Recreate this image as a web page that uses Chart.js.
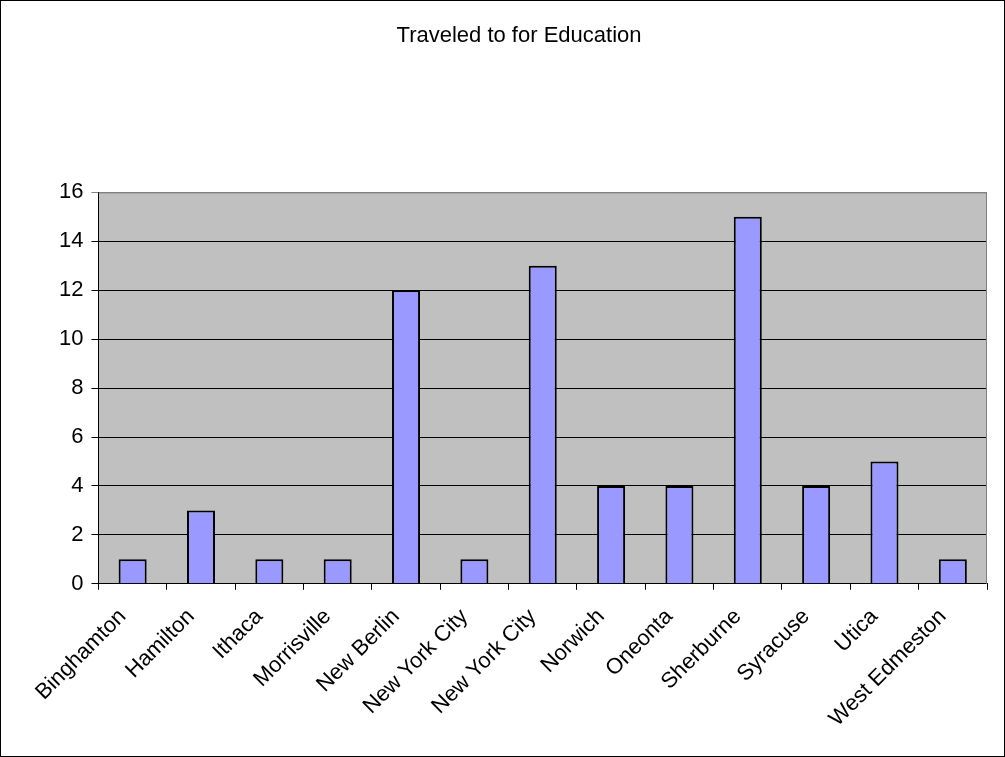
<!DOCTYPE html>
<html>
<head>
<meta charset="utf-8">
<script src="https://cdn.jsdelivr.net/npm/chart.js@4.4.1/dist/chart.umd.min.js"></script>
<style>
  html, body { margin: 0; padding: 0; background: #fff; }
  #wrap { width: 1005px; height: 757px; box-sizing: border-box; border: 1px solid #000; position: relative; }
  canvas { display: block; }
</style>
</head>
<body>
<div id="wrap"><canvas id="chart" width="1003" height="755"></canvas></div>
<script>
// --- data ---
const places = ['Binghamton', 'Hamilton', 'Ithaca', 'Morrisville', 'New Berlin', 'New York City',
  'New York City', 'Norwich', 'Oneonta', 'Sherburne', 'Syracuse', 'Utica', 'West Edmeston'];
const counts = [1, 3, 1, 1, 12, 1, 13, 4, 4, 15, 4, 5, 1];
const yTicks = [0, 2, 4, 6, 8, 10, 12, 14, 16];

const FONT = "'Liberation Sans', Arial, sans-serif";

// gray plot background + gray top/right edge, like the old Excel look
const plotArea = {
  id: 'plotArea',
  beforeDraw(chart) {
    const { ctx, chartArea: a } = chart;
    ctx.save();
    ctx.fillStyle = '#C0C0C0';
    ctx.fillRect(a.left, a.top, a.right - a.left, a.bottom - a.top);
    ctx.restore();
  },
  afterDatasetsDraw(chart) {
    const { ctx, chartArea: a } = chart;
    ctx.save();
    ctx.strokeStyle = '#808080';
    ctx.lineWidth = 1;
    ctx.beginPath();
    ctx.moveTo(a.left, a.top + 0.5);
    ctx.lineTo(a.right - 0.5, a.top + 0.5);
    ctx.lineTo(a.right - 0.5, a.bottom);
    ctx.stroke();
    ctx.restore();
  }
};

new Chart(document.getElementById('chart'), {
  type: 'bar',
  data: {
    labels: places,
    datasets: [{
      data: counts,
      backgroundColor: '#9999FF',
      borderColor: '#000000',
      borderWidth: 2,
      categoryPercentage: 1,
      barPercentage: 0.41,
    }],
  },
  options: {
    responsive: false,
    animation: false,
    devicePixelRatio: 1,
    layout: { padding: { left: 50, right: 17, bottom: 10 } },
    plugins: {
      legend: { display: false },
      tooltip: { enabled: false },
      title: {
        display: true,
        text: 'Traveled to for Education',
        color: '#000',
        font: { family: FONT, size: 22, weight: 'normal' },
        padding: { top: 22, bottom: 143 },
      },
    },
    scales: {
      x: {
        offset: true,
        grid: { offset: true, drawOnChartArea: false, drawTicks: true, tickLength: 6, color: '#000' },
        border: { color: '#000', width: 1 },
        ticks: {
          color: '#000',
          font: { family: FONT, size: 22 },
          minRotation: 45,
          maxRotation: 45,
          autoSkip: false,
          padding: 14,
          labelOffset: -10,
        },
      },
      y: {
        min: 0,
        max: 16,
        afterBuildTicks(axis) { axis.ticks = yTicks.map(v => ({ value: v })); },
        grid: {
          color: ctx => (ctx.tick && ctx.tick.value === 16 ? '#808080' : '#000'),
          lineWidth: 1,
          tickLength: 7,
        },
        border: { color: '#000', width: 1 },
        ticks: {
          color: '#000',
          font: { family: FONT, size: 22 },
          padding: 8,
        },
      },
    },
  },
  plugins: [plotArea],
});
</script>
</body>
</html>
